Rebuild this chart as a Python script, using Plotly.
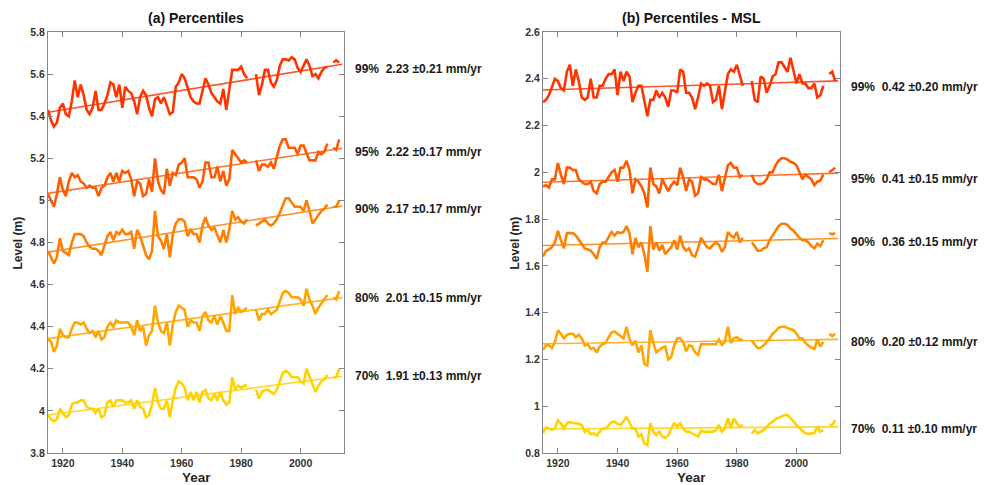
import numpy as np
import plotly.graph_objects as go

N = None
years = list(range(1915, 2014))

# ---------- (a) Percentiles ----------
a99 = [5.43, 5.38, 5.35, 5.37, 5.44, 5.46, 5.41, 5.40, 5.47, 5.57,
       5.49, 5.55, 5.50, 5.43, 5.41, 5.44, 5.52, 5.43, 5.43, 5.46,
       5.50, 5.56, 5.55, 5.49, 5.55, 5.44, 5.54, 5.52, 5.51, 5.47,
       5.41, 5.49, 5.52, 5.50, 5.44, 5.40, 5.48, 5.49, 5.46, 5.49,
       5.45, 5.41, 5.42, 5.54, 5.56, 5.60, 5.58, 5.54, 5.49, 5.47,
       5.46, 5.46, 5.52, 5.58, 5.55, 5.51, 5.49, 5.47, 5.46, 5.53,
       5.43, 5.52, 5.62, 5.62, 5.62, 5.635, 5.60, 5.58, N, N,
       5.60, 5.50, 5.55, 5.62, 5.62, 5.56, 5.54, 5.57, 5.64, 5.67,
       5.67, 5.665, 5.68, 5.67, 5.63, 5.61, 5.64, 5.67, 5.64, 5.59,
       5.60, 5.58, 5.61, 5.63, 5.635, N, 5.655, 5.665, 5.655]
a95 = [5.03, 5.00, 4.97, 5.03, 5.11, 5.05, 5.02, 5.09, 5.13, 5.11,
       5.12, 5.09, 5.08, 5.06, 5.07, 5.06, 5.06, 5.02, 5.06, 5.07,
       5.11, 5.13, 5.09, 5.13, 5.09, 5.14, 5.13, 5.14, 5.10, 5.02,
       5.09, 5.08, 5.02, 5.03, 5.10, 5.04, 5.20, 5.09, 5.05, 5.03,
       5.15, 5.07, 5.13, 5.12, 5.17, 5.18, 5.20, 5.11, 5.11, 5.11,
       5.10, 5.06, 5.09, 5.18, 5.18, 5.11, 5.11, 5.16, 5.09, 5.14,
       5.07, 5.10, 5.24, 5.22, 5.20, 5.18, 5.19, 5.18, N, N,
       5.19, 5.14, 5.17, 5.17, 5.16, 5.18, 5.15, 5.21, 5.26, 5.29,
       5.29, 5.25, 5.25, 5.25, 5.22, 5.26, 5.26, 5.22, 5.19, 5.19,
       5.19, 5.23, 5.22, 5.23, 5.27, N, 5.25, 5.24, 5.29]
a90 = [4.76, 4.73, 4.70, 4.73, 4.82, 4.76, 4.75, 4.74, 4.80, 4.84,
       4.84, 4.84, 4.83, 4.80, 4.78, 4.77, 4.77, 4.76, 4.74, 4.78,
       4.83, 4.85, 4.81, 4.85, 4.84, 4.86, 4.84, 4.84, 4.85, 4.77,
       4.86, 4.83, 4.79, 4.74, 4.72, 4.76, 4.95, 4.83, 4.81, 4.77,
       4.84, 4.73, 4.84, 4.89, 4.91, 4.91, 4.90, 4.83, 4.86, 4.84,
       4.84, 4.80, 4.88, 4.92, 4.88, 4.86, 4.87, 4.83, 4.80, 4.86,
       4.80, 4.86, 4.95, 4.91, 4.92, 4.90, 4.89, 4.91, N, N,
       4.88, 4.89, 4.90, 4.91, 4.89, 4.88, 4.89, 4.91, 4.94, 4.98,
       5.01, 5.01, 4.99, 4.97, 4.97, 4.97, 4.95, 5.00, 4.95, 4.89,
       4.91, 4.93, 4.95, 4.96, 4.98, N, 4.97, 4.97, 5.00]
a80 = [4.34, 4.33, 4.28, 4.31, 4.39, 4.36, 4.35, 4.35, 4.39, 4.42,
       4.42, 4.41, 4.42, 4.39, 4.37, 4.38, 4.35, 4.38, 4.34, 4.35,
       4.40, 4.42, 4.40, 4.43, 4.42, 4.42, 4.42, 4.42, 4.40, 4.36,
       4.43, 4.38, 4.40, 4.31, 4.36, 4.38, 4.50, 4.42, 4.38, 4.37,
       4.42, 4.31, 4.41, 4.47, 4.50, 4.49, 4.48, 4.40, 4.43, 4.42,
       4.42, 4.38, 4.45, 4.47, 4.43, 4.42, 4.45, 4.41, 4.45, 4.42,
       4.38, 4.38, 4.55, 4.46, 4.49, 4.47, 4.48, 4.49, N, N,
       4.48, 4.43, 4.46, 4.46, 4.48, 4.46, 4.47, 4.48, 4.52, 4.56,
       4.57, 4.56, 4.54, 4.54, 4.54, 4.53, 4.50, 4.58, 4.53, 4.50,
       4.46, 4.49, 4.51, 4.53, 4.55, N, 4.54, 4.53, 4.57]
a70 = [3.98, 3.96, 3.95, 3.96, 4.01, 3.99, 3.97, 3.98, 4.03, 4.04,
       4.04, 4.05, 4.05, 4.02, 4.01, 4.01, 3.99, 4.01, 3.97, 3.98,
       4.04, 4.05, 4.02, 4.05, 4.05, 4.05, 4.04, 4.04, 4.05, 4.01,
       4.05, 4.02, 4.01, 3.97, 3.98, 4.03, 4.11, 4.04, 4.01, 4.01,
       4.05, 3.97, 4.05, 4.11, 4.14, 4.13, 4.11, 4.05, 4.09, 4.05,
       4.09, 4.04, 4.09, 4.10, 4.06, 4.05, 4.08, 4.05, 4.09, 4.05,
       4.03, 4.04, 4.16, 4.10, 4.12, 4.11, 4.12, 4.12, N, N,
       4.10, 4.06, 4.09, 4.10, 4.10, 4.09, 4.08, 4.10, 4.14, 4.18,
       4.19, 4.18, 4.16, 4.16, 4.16, 4.14, 4.13, 4.20, 4.16, 4.12,
       4.09, 4.12, 4.14, 4.15, 4.17, N, 4.16, 4.16, 4.20]

# ---------- (b) Percentiles - MSL ----------
b99 = [2.30, 2.31, 2.33, 2.37, 2.40, 2.39, 2.36, 2.35, 2.43, 2.46,
       2.37, 2.44, 2.39, 2.32, 2.31, 2.32, 2.40, 2.32, 2.32, 2.37,
       2.37, 2.40, 2.42, 2.42, 2.44, 2.33, 2.43, 2.39, 2.43, 2.41,
       2.30, 2.34, 2.37, 2.37, 2.31, 2.24, 2.31, 2.31, 2.35, 2.32,
       2.34, 2.32, 2.28, 2.35, 2.35, 2.34, 2.44, 2.43, 2.34, 2.34,
       2.32, 2.27, 2.32, 2.38, 2.37, 2.38, 2.37, 2.30, 2.31, 2.37,
       2.27, 2.34, 2.42, 2.44, 2.43, 2.46, 2.42, 2.37, N, N,
       2.39, 2.31, 2.30, 2.41, 2.40, 2.34, 2.37, 2.41, 2.42, 2.47,
       2.47, 2.45, 2.43, 2.49, 2.44, 2.38, 2.42, 2.38, 2.38, 2.36,
       2.36, 2.38, 2.32, 2.33, 2.37, N, 2.42, 2.43, 2.39]
b95 = [1.94, 1.945, 1.935, 1.97, 1.97, 2.04, 1.99, 1.95, 2.02, 2.02,
       2.01, 2.01, 1.97, 1.96, 1.95, 1.95, 1.96, 1.92, 1.91, 1.95,
       1.96, 1.96, 1.98, 2.00, 2.01, 1.96, 2.02, 2.02, 2.05, 2.01,
       1.91, 1.97, 1.96, 1.94, 1.91, 1.85, 2.02, 1.95, 1.94, 1.91,
       1.97, 1.945, 1.92, 1.945, 1.96, 1.945, 2.02, 1.98, 1.92, 1.97,
       1.96, 1.90, 1.91, 1.98, 1.97, 1.97, 1.96, 1.95, 1.95, 1.99,
       1.92, 1.98, 2.03, 2.04, 2.02, 2.02, 1.98, 1.99, N, N,
       1.99, 1.96, 1.95, 1.95, 1.955, 1.97, 2.00, 2.00, 2.03, 2.05,
       2.06, 2.06, 2.055, 2.045, 2.04, 2.03, 2.00, 1.97, 1.99, 1.98,
       1.97, 1.945, 1.96, 1.965, 1.99, N, 2.00, 2.01, 2.02]
b90 = [1.64, 1.665, 1.67, 1.68, 1.70, 1.75, 1.71, 1.675, 1.74, 1.74,
       1.74, 1.73, 1.71, 1.69, 1.675, 1.67, 1.665, 1.65, 1.63, 1.68,
       1.70, 1.70, 1.72, 1.745, 1.73, 1.745, 1.74, 1.745, 1.77, 1.74,
       1.65, 1.72, 1.68, 1.70, 1.65, 1.575, 1.77, 1.67, 1.70, 1.665,
       1.69, 1.65, 1.665, 1.68, 1.71, 1.67, 1.73, 1.68, 1.665, 1.675,
       1.645, 1.64, 1.675, 1.72, 1.70, 1.68, 1.675, 1.69, 1.70, 1.69,
       1.66, 1.68, 1.745, 1.73, 1.72, 1.745, 1.70, 1.72, N, N,
       1.70, 1.685, 1.665, 1.665, 1.675, 1.68, 1.71, 1.73, 1.755, 1.77,
       1.78, 1.78, 1.775, 1.76, 1.75, 1.735, 1.72, 1.71, 1.71, 1.70,
       1.685, 1.675, 1.695, 1.685, 1.71, N, 1.74, 1.735, 1.74]
b80 = [1.24, 1.26, 1.26, 1.25, 1.275, 1.325, 1.31, 1.29, 1.305, 1.31,
       1.31, 1.295, 1.305, 1.29, 1.26, 1.265, 1.245, 1.25, 1.23, 1.255,
       1.265, 1.27, 1.295, 1.315, 1.32, 1.31, 1.30, 1.29, 1.34, 1.29,
       1.26, 1.28, 1.23, 1.26, 1.18, 1.175, 1.325, 1.27, 1.23, 1.24,
       1.25, 1.255, 1.20, 1.21, 1.26, 1.29, 1.29, 1.275, 1.235, 1.26,
       1.255, 1.23, 1.22, 1.265, 1.265, 1.262, 1.262, 1.262, 1.265, 1.285,
       1.262, 1.275, 1.34, 1.27, 1.29, 1.295, 1.285, 1.283, N, N,
       1.28, 1.262, 1.248, 1.25, 1.26, 1.275, 1.29, 1.31, 1.32, 1.335,
       1.34, 1.34, 1.335, 1.33, 1.325, 1.31, 1.29, 1.29, 1.27, 1.26,
       1.25, 1.245, 1.285, 1.255, 1.275, N, 1.31, 1.30, 1.31]
b70 = [0.885, 0.91, 0.905, 0.90, 0.905, 0.94, 0.927, 0.905, 0.927, 0.932,
       0.928, 0.927, 0.925, 0.92, 0.89, 0.898, 0.88, 0.884, 0.874, 0.89,
       0.905, 0.905, 0.92, 0.932, 0.934, 0.925, 0.92, 0.935, 0.955, 0.93,
       0.905, 0.905, 0.87, 0.88, 0.84, 0.834, 0.927, 0.891, 0.877, 0.891,
       0.87, 0.865, 0.875, 0.905, 0.927, 0.913, 0.927, 0.905, 0.891, 0.891,
       0.884, 0.875, 0.87, 0.895, 0.891, 0.891, 0.891, 0.891, 0.898, 0.92,
       0.891, 0.905, 0.948, 0.905, 0.948, 0.927, 0.913, 0.92, N, N,
       0.884, 0.898, 0.884, 0.891, 0.898, 0.91, 0.925, 0.935, 0.945, 0.95,
       0.955, 0.962, 0.962, 0.95, 0.935, 0.92, 0.905, 0.894, 0.884, 0.88,
       0.884, 0.885, 0.913, 0.891, 0.898, N, 0.92, 0.92, 0.94]

labels = ["99%", "95%", "90%", "80%", "70%"]
colors = ["#FF3300", "#FF5A00", "#FF8000", "#FFA500", "#FFD200"]
rates_a = ["2.23 \u00b10.21 mm/yr", "2.22 \u00b10.17 mm/yr", "2.17 \u00b10.17 mm/yr",
           "2.01 \u00b10.15 mm/yr", "1.91 \u00b10.13 mm/yr"]
rates_b = ["0.42 \u00b10.20 mm/yr", "0.41 \u00b10.15 mm/yr", "0.36 \u00b10.15 mm/yr",
           "0.20 \u00b10.12 mm/yr", "0.11 \u00b10.10 mm/yr"]
label_y_a = [5.624, 5.23, 4.959, 4.536, 4.166]
label_y_b = [2.365, 1.972, 1.702, 1.275, 0.903]

series_a = [a99, a95, a90, a80, a70]
series_b = [b99, b95, b90, b80, b70]

xticks = [1920, 1940, 1960, 1980, 2000]
yticks_a = [3.8, 4.0, 4.2, 4.4, 4.6, 4.8, 5.0, 5.2, 5.4, 5.6, 5.8]
yticks_b = [0.8, 1.0, 1.2, 1.4, 1.6, 1.8, 2.0, 2.2, 2.4, 2.6]
trend_span = [1915, 2014]

fig = go.Figure()

def add_panel(series, xa, ya):
    for vals, col in zip(series, colors):
        fig.add_trace(go.Scatter(x=years, y=vals, mode="lines",
                                 line=dict(color=col, width=2.6),
                                 connectgaps=False, xaxis=xa, yaxis=ya,
                                 showlegend=False, hoverinfo="skip"))
    for vals, col in zip(series, colors):
        xs = np.array([y for y, v in zip(years, vals) if v is not None], float)
        vs = np.array([v for v in vals if v is not None], float)
        k, b = np.polyfit(xs, vs, 1)
        tx = np.array(trend_span, float)
        fig.add_trace(go.Scatter(x=tx, y=k * tx + b, mode="lines",
                                 line=dict(color=col, width=1.6),
                                 opacity=0.85, xaxis=xa, yaxis=ya,
                                 showlegend=False, hoverinfo="skip"))

add_panel(series_a, "x", "y")
add_panel(series_b, "x2", "y2")

fnt = "Liberation Sans, Arial, sans-serif"
axis_common = dict(showline=True, mirror="ticks", linecolor="#858585", linewidth=1,
                   ticks="inside", ticklen=5, tickcolor="#858585", showgrid=False,
                   zeroline=False,
                   tickfont=dict(family=fnt, size=10.5, color="#333333", weight="bold"))

xr = [1915, 2014.6]
fig.update_layout(
    width=993, height=485,
    margin=dict(l=48, r=153, t=32, b=32),
    paper_bgcolor="white", plot_bgcolor="white",
    xaxis=dict(domain=[0, 0.3737], range=xr, tickvals=xticks, **axis_common),
    yaxis=dict(range=[3.8, 5.8], tickvals=yticks_a,
               ticktext=[f"{v:g}" for v in yticks_a], **axis_common),
    xaxis2=dict(domain=[0.625, 1.0], range=xr, tickvals=xticks, anchor="y2", **axis_common),
    yaxis2=dict(range=[0.8, 2.6], tickvals=yticks_b, anchor="x2",
                ticktext=[f"{v:g}" for v in yticks_b], **axis_common),
)

ann = []
for lab, r, yv in zip(labels, rates_a, label_y_a):
    ann.append(dict(x=0.385, xref="paper", y=yv, yref="y", xanchor="left", yanchor="middle",
                    text=f"{lab}\u00a0\u00a0{r}", showarrow=False,
                    font=dict(family=fnt, size=12, color="#1a1a1a", weight="bold")))
for lab, r, yv in zip(labels, rates_b, label_y_b):
    ann.append(dict(x=1.0114, xref="paper", y=yv, yref="y2", xanchor="left", yanchor="middle",
                    text=f"{lab}\u00a0\u00a0{r}", showarrow=False,
                    font=dict(family=fnt, size=12, color="#1a1a1a", weight="bold")))

titles = [("(a) Percentiles", 0.1869), ("(b) Percentiles - MSL", 0.8125)]
for t, xp in titles:
    ann.append(dict(x=xp, xref="paper", y=1.033, yref="paper", xanchor="center",
                    yanchor="middle", text=t, showarrow=False,
                    font=dict(family=fnt, size=14, color="#111111", weight="bold")))
for xp in [0.1869, 0.8125]:
    ann.append(dict(x=xp, xref="paper", y=-0.058, yref="paper", xanchor="center",
                    yanchor="middle", text="Year", showarrow=False,
                    font=dict(family=fnt, size=13.5, color="#262626", weight="bold")))
for xp in [-0.0379, 0.5896]:
    ann.append(dict(x=xp, xref="paper", y=0.5, yref="paper", xanchor="center",
                    yanchor="middle", text="Level (m)", textangle=-90, showarrow=False,
                    font=dict(family=fnt, size=12, color="#262626", weight="bold")))
fig.update_layout(annotations=ann)

fig.write_html("out.html")
